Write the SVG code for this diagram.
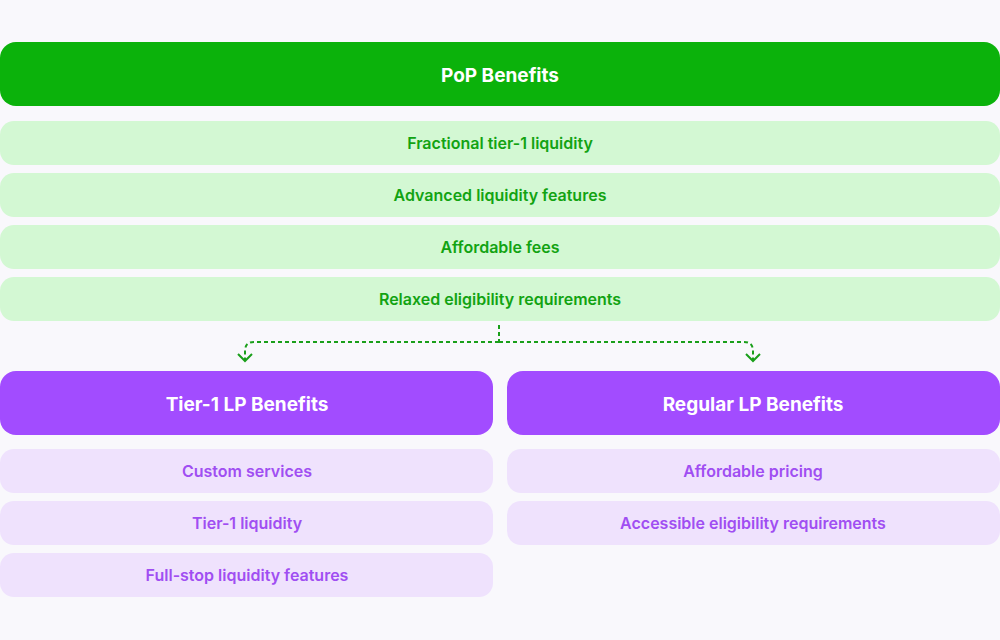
<svg xmlns="http://www.w3.org/2000/svg" width="1000" height="640" viewBox="0 0 1000 640">
<style>
text{font-family:Inter,"Liberation Sans",sans-serif;text-anchor:middle;dominant-baseline:central}
.gh{fill:#0bb20b}.gr{fill:#d3f8d3}.gt{fill:#12a312;font-size:16px;font-weight:600}
.ph{fill:#a24cff}.pr{fill:#efe2fd}.pt{fill:#a04ef2;font-size:16px;font-weight:600}
.ht{fill:#fff;font-size:19px;font-weight:700}
.c{fill:none;stroke:#1a9f1a;stroke-width:2;stroke-dasharray:4 3}
.a{fill:none;stroke:#1a9f1a;stroke-width:2}
</style>
<rect width="1000" height="640" fill="#f9f8fc"/>
<g id="pop"><rect class="gh" x="0" y="42" width="1000" height="64" rx="16"/><text class="ht" x="500" y="75">PoP Benefits</text></g>
<g id="pop1"><rect class="gr" x="0" y="121" width="1000" height="44" rx="14"/><text class="gt" x="500" y="143">Fractional tier-1 liquidity</text></g>
<g id="pop2"><rect class="gr" x="0" y="173" width="1000" height="44" rx="14"/><text class="gt" x="500" y="195">Advanced liquidity features</text></g>
<g id="pop3"><rect class="gr" x="0" y="225" width="1000" height="44" rx="14"/><text class="gt" x="500" y="247">Affordable fees</text></g>
<g id="pop4"><rect class="gr" x="0" y="277" width="1000" height="44" rx="14"/><text class="gt" x="500" y="299">Relaxed eligibility requirements</text></g>
<g id="connectors">
<path class="c" d="M499 325V342M499 342H254Q245 342 245 351V361M499 342H744Q753 342 753 351V361"/>
<path class="a" d="M238 354L245 361L252 354M746 354L753 361L760 354"/>
</g>
<g id="tier1"><rect class="ph" x="0" y="371" width="493" height="64" rx="16"/><text class="ht" x="247" y="404">Tier-1 LP Benefits</text></g>
<g id="t1"><rect class="pr" x="0" y="449" width="493" height="44" rx="14"/><text class="pt" x="247" y="471">Custom services</text></g>
<g id="t2"><rect class="pr" x="0" y="501" width="493" height="44" rx="14"/><text class="pt" x="247" y="523">Tier-1 liquidity</text></g>
<g id="t3"><rect class="pr" x="0" y="553" width="493" height="44" rx="14"/><text class="pt" x="247" y="575">Full-stop liquidity features</text></g>
<g id="regular"><rect class="ph" x="507" y="371" width="493" height="64" rx="16"/><text class="ht" x="753" y="404">Regular LP Benefits</text></g>
<g id="r1"><rect class="pr" x="507" y="449" width="493" height="44" rx="14"/><text class="pt" x="753" y="471">Affordable pricing</text></g>
<g id="r2"><rect class="pr" x="507" y="501" width="493" height="44" rx="14"/><text class="pt" x="753" y="523">Accessible eligibility requirements</text></g>
</svg>
